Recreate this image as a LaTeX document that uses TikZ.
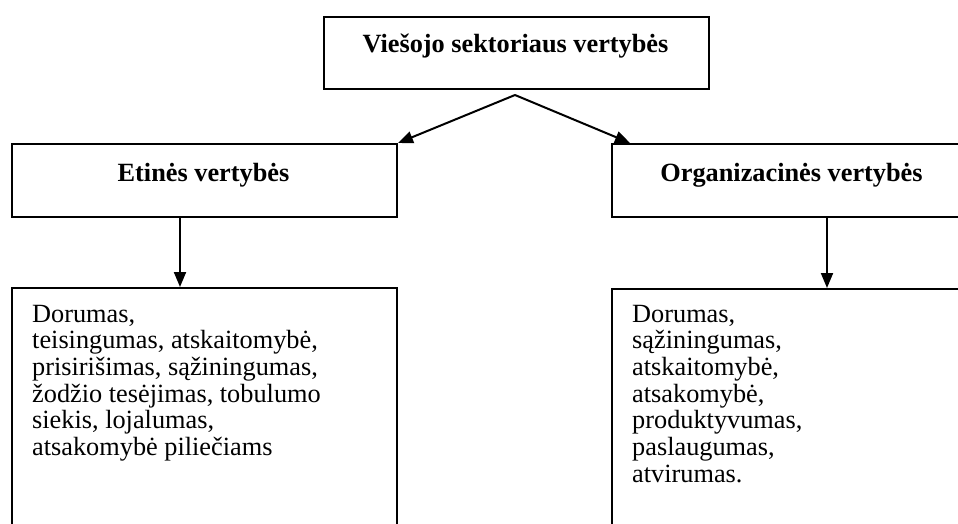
\documentclass[tikz,border=0pt]{standalone}
\usepackage{fontspec}
\setmainfont{Liberation Serif}
\usetikzlibrary{arrows.meta,calc}
\begin{document}
\begin{tikzpicture}[x=1pt,y=-1pt,
  box/.style={draw=black,line width=2pt,fill=none,inner sep=0pt,anchor=north west},
  hdr/.style={font={\fontsize{26.3}{30}\selectfont\bfseries},inner sep=0pt,anchor=base},
  body/.style={font={\fontsize{26.3}{26.7}\selectfont},inner sep=0pt,anchor=base west,align=left},
  arr/.style={line width=2pt,-{Triangle[length=15pt,width=12pt]}}]
\useasboundingbox (0,0) rectangle (958,523);
\clip (0,0) rectangle (958,523);
\node[box,minimum width=385,minimum height=72] (top) at (323,16) {};
\node[box,minimum width=385,minimum height=73] (etin) at (11,143) {};
\node[box,minimum width=361,minimum height=73] (org) at (611,143) {};
\node[box,minimum width=385,minimum height=260] (etinl) at (11,287) {};
\node[box,minimum width=361,minimum height=260] (orgl) at (611,288) {};
\node[hdr] (toptxt) at (515.5,52) {Viešojo sektoriaus vertybės};
\node[hdr] (etintxt) at (203.5,181) {Etinės vertybės};
\node[hdr] (orgtxt) at (791.5,181) {Organizacinės vertybės};
\node[body] (etinltxt) at (32,455.5) {Dorumas,\\teisingumas, atskaitomybė,\\prisirišimas, sąžiningumas,\\žodžio tesėjimas, tobulumo\\siekis, lojalumas,\\atsakomybė piliečiams};
\node[body] (orgltxt) at (632,482.2) {Dorumas,\\sąžiningumas,\\atskaitomybė,\\atsakomybė,\\produktyvumas,\\paslaugumas,\\atvirumas.};
\coordinate (apex) at (515,95);
\draw[arr] (apex) -- (etin.north east);
\draw[arr] (apex) -- ($(org.north west)+(19,0)$);
\draw[arr] ($(etin.south west)+(169,0)$) -- ($(etinl.north west)+(169,0)$);
\draw[arr] ($(org.south west)+(216,0)$) -- ($(orgl.north west)+(216,0)$);
\end{tikzpicture}
\end{document}
